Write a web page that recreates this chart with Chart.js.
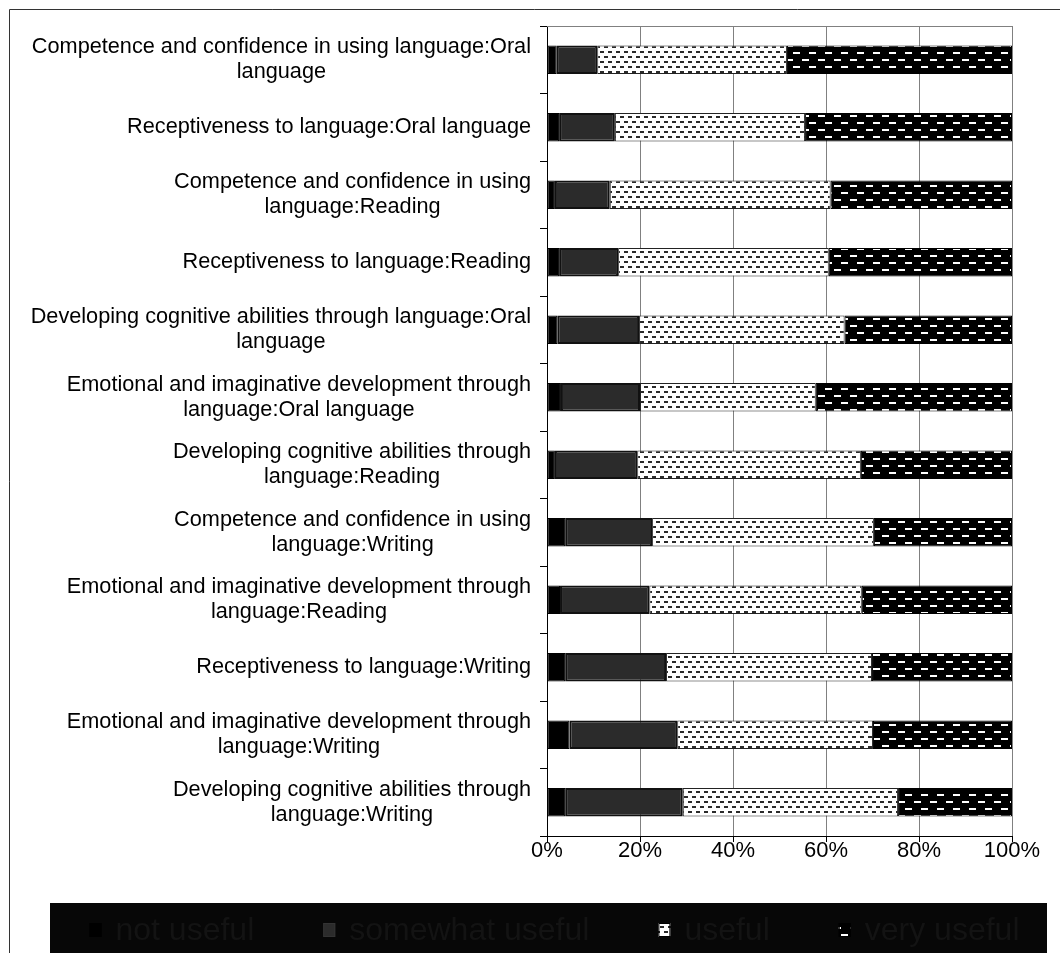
<!DOCTYPE html>
<html>
<head>
<meta charset="utf-8">
<title>Usefulness of language strands</title>
<script src="https://cdn.jsdelivr.net/npm/chart.js@4/dist/chart.umd.min.js"></script>
<style>
  html, body { margin: 0; padding: 0; background: #fff; }
  #wrap { width: 1060px; height: 953px; position: relative; }
</style>
</head>
<body>
<div id="wrap"><canvas id="usefulChart"></canvas></div>
<script>
// strand names, one entry per bar (split into the lines they are printed on)
const categories = [
    ["Competence and confidence in using language:Oral", "language"],
    ["Receptiveness to language:Oral language"],
    ["Competence and confidence in using", "language:Reading"],
    ["Receptiveness to language:Reading"],
    ["Developing cognitive abilities through language:Oral", "language"],
    ["Emotional and imaginative development through", "language:Oral language"],
    ["Developing cognitive abilities through", "language:Reading"],
    ["Competence and confidence in using", "language:Writing"],
    ["Emotional and imaginative development through", "language:Reading"],
    ["Receptiveness to language:Writing"],
    ["Emotional and imaginative development through", "language:Writing"],
    ["Developing cognitive abilities through", "language:Writing"]
];

// percentage of answers per rating
const notUseful      = [2.1, 2.6, 1.7, 2.6, 2.2, 3.0, 1.7, 3.9, 2.8, 3.9, 4.8, 3.9];
const somewhatUseful = [8.7, 12.0, 11.8, 12.7, 17.6, 17.0, 17.7, 18.7, 19.2, 21.7, 23.2, 25.3];
const useful         = [40.8, 40.9, 47.5, 45.3, 44.2, 37.8, 48.1, 47.7, 45.7, 44.3, 42.1, 46.3];
const veryUseful     = [48.4, 44.5, 39.0, 39.4, 36.0, 42.2, 32.5, 29.7, 32.3, 30.1, 29.9, 24.5];

const seriesNames = ["not useful", "somewhat useful", "useful", "very useful"];
const xTicks = [0, 20, 40, 60, 80, 100];

// small fill patterns, like old office charts
function dotPattern() {
    const c = document.createElement('canvas');
    c.width = 8; c.height = 10;
    const g = c.getContext('2d');
    g.fillStyle = '#fff';
    g.fillRect(0, 0, 8, 10);
    g.fillStyle = '#2a2a2a';
    g.fillRect(0, 1, 4, 2);
    g.fillRect(4, 6, 4, 2);
    return g.createPattern(c, 'repeat');
}

function dashPattern() {
    const c = document.createElement('canvas');
    c.width = 16; c.height = 14;
    const g = c.getContext('2d');
    g.fillStyle = '#000';
    g.fillRect(0, 0, 16, 14);
    g.fillStyle = '#fff';
    g.fillRect(2, 3, 7, 2);
    g.fillRect(9, 10, 7, 2);
    return g.createPattern(c, 'repeat');
}

const FONT_FAMILY = '"Liberation Sans", Arial, sans-serif';
const LABEL_FONT = '21.7px ' + FONT_FAMILY;
const LEGEND_FONT = '32px ' + FONT_FAMILY;

// outer frame + gray top edge of the plot
const framePlugin = {
    id: 'frame',
    beforeDraw(chart) {
        const ctx = chart.ctx;
        ctx.save();
        ctx.fillStyle = '#fff';
        ctx.fillRect(0, 0, chart.width, chart.height);
        ctx.strokeStyle = '#333';
        ctx.lineWidth = 1;
        ctx.beginPath();
        ctx.moveTo(9.5, chart.height);
        ctx.lineTo(9.5, 9.5);
        ctx.lineTo(chart.width, 9.5);
        ctx.stroke();
        ctx.restore();
    },
    beforeDatasetsDraw(chart) {
        const a = chart.chartArea;
        const ctx = chart.ctx;
        ctx.save();
        ctx.strokeStyle = '#808080';
        ctx.lineWidth = 1;
        ctx.beginPath();
        ctx.moveTo(a.left, Math.round(a.top) + 0.5);
        ctx.lineTo(a.right, Math.round(a.top) + 0.5);
        ctx.stroke();
        ctx.restore();
    }
};

// category names: block right-aligned to the axis, lines centred inside the block
const categoryLabels = {
    id: 'categoryLabels',
    afterDraw(chart) {
        const ctx = chart.ctx;
        const y = chart.scales.y;
        const right = chart.chartArea.left - 16;
        const lh = 25;
        ctx.save();
        ctx.font = LABEL_FONT;
        ctx.fillStyle = '#000';
        ctx.textAlign = 'center';
        ctx.textBaseline = 'middle';
        chart.data.labels.forEach((lines, i) => {
            const w = Math.max(...lines.map(l => ctx.measureText(l).width));
            const cx = right - w / 2;
            const cy = y.getPixelForValue(i);
            lines.forEach((l, k) => {
                ctx.fillText(l, cx, cy + (k - (lines.length - 1) / 2) * lh);
            });
        });
        ctx.restore();
    }
};

// legend on a black band under the axis
const darkLegend = {
    id: 'darkLegend',
    afterDraw(chart) {
        const ctx = chart.ctx;
        const box = { x: 50, y: 903, w: 997, h: 60 };
        ctx.save();
        ctx.fillStyle = '#070707';
        ctx.fillRect(box.x, box.y, box.w, box.h);
        ctx.font = LEGEND_FONT;
        const sets = chart.data.datasets;
        const mark = 12, gap = 14, spacing = 69;
        const widths = sets.map(d => ctx.measureText(d.label).width);
        const total = widths.reduce((s, w) => s + mark + gap + w, 0) + spacing * (sets.length - 1);
        let x = box.x + box.w / 2 + 6 - total / 2;
        const cy = box.y + 27;
        ctx.textBaseline = 'middle';
        ctx.textAlign = 'left';
        sets.forEach((d, i) => {
            ctx.fillStyle = d.backgroundColor;
            ctx.fillRect(x, cy - 7, mark, 14);
            ctx.strokeStyle = i === 1 ? '#333' : '#000';
            ctx.lineWidth = 1;
            ctx.strokeRect(x + 0.5, cy - 6.5, mark - 1, 13);
            ctx.fillStyle = '#131313';
            ctx.fillText(d.label, x + mark + gap, cy + 1);
            x += mark + gap + widths[i] + spacing;
        });
        ctx.restore();
    }
};

const ctx = document.getElementById('usefulChart').getContext('2d');
new Chart(ctx, {
    type: 'bar',
    data: {
        labels: categories,
        datasets: [
            { label: seriesNames[0], data: notUseful, backgroundColor: '#000', borderColor: '#000', borderWidth: 1 },
            { label: seriesNames[1], data: somewhatUseful, backgroundColor: '#2b2b2b', borderColor: '#111', borderWidth: 2 },
            { label: seriesNames[2], data: useful, backgroundColor: dotPattern(), borderColor: '#222', borderWidth: 1 },
            { label: seriesNames[3], data: veryUseful, backgroundColor: dashPattern(), borderColor: '#000', borderWidth: 1 }
        ]
    },
    options: {
        indexAxis: 'y',
        responsive: true,
        maintainAspectRatio: false,
        animation: false,
        layout: { padding: { top: 26, right: 48, left: 0, bottom: 77 } },
        datasets: {
            bar: { categoryPercentage: 1, barPercentage: 0.42, borderSkipped: false }
        },
        plugins: {
            legend: { display: false },
            tooltip: { enabled: false }
        },
        scales: {
            x: {
                stacked: true,
                min: 0,
                max: 100,
                afterFit: s => { s.height = 40; },
                afterBuildTicks: s => { s.ticks = xTicks.map(v => ({ value: v })); },
                ticks: {
                    callback: v => v + '%',
                    color: '#000',
                    padding: -4,
                    maxRotation: 0,
                    font: { family: FONT_FAMILY, size: 22 }
                },
                grid: { color: '#808080', tickColor: '#000', tickLength: 6 },
                border: { color: '#000' }
            },
            y: {
                stacked: true,
                afterFit: s => { s.width = 547; },
                ticks: { display: false },
                grid: { drawOnChartArea: false, offset: true, tickColor: '#000', tickLength: 7 },
                border: { color: '#000' }
            }
        }
    },
    plugins: [framePlugin, categoryLabels, darkLegend]
});
</script>
</body>
</html>
